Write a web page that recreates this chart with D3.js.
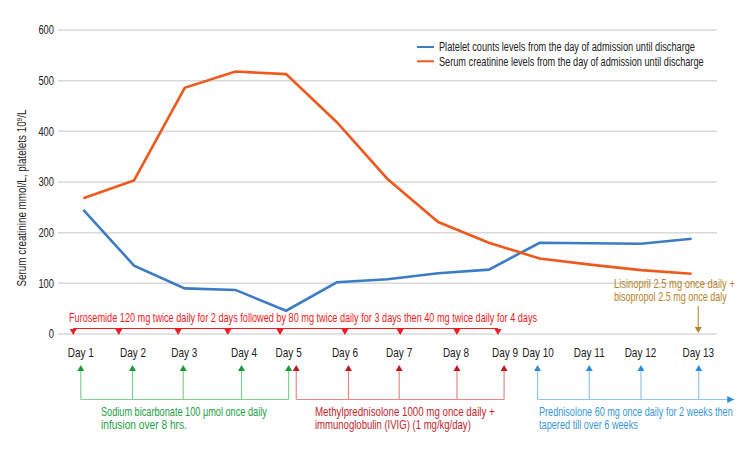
<!DOCTYPE html>
<html><head><meta charset="utf-8">
<script src="https://cdn.jsdelivr.net/npm/d3@7"></script>
<style>
body{margin:0;background:#fff;}
text{font-family:"Liberation Sans",Arial,sans-serif;}
</style></head>
<body><svg id="c" width="756" height="456"></svg>
<script>
// ---- data ----
const days = [1,2,3,4,5,6,7,8,9,10,11,12,13];
const dayLabels = ["Day 1","Day 2","Day 3","Day 4","Day 5","Day 6","Day 7","Day 8","Day 9","Day 10","Day 11","Day 12","Day 13"];
const platelets = [245,135,90,87,46,102,108,120,127,180,179,178,188];
const creatinine = [268,303,486,518,513,418,306,221,180,149,137,126,119];
const yTicks = [0,100,200,300,400,500,600];
const seriesNames = ["Platelet counts levels from the day of admission until discharge","Serum creatinine levels from the day of admission until discharge"];
// annotation anchors in day units
const dayLabelAt = [0.95,1.98,2.99,4.17,5.05,6.16,7.23,8.35,9.32,9.97,10.98,11.99,13.13];
const furosemideAt = [0.8,1.7,2.87,3.85,4.88,6.16,7.25,8.37,9.18];
const bicarbAt = [0.95,1.97,2.97,4.12,5.05];
const methylAt = [5.2,6.23,7.23,8.37,9.3];
const prednisAt = [9.96,10.98,12.0,13.14];
const prednisEnd = 13.84;
const lisinoprilAt = 13.13;

const svg = d3.select("#c");
const M = {l:58, r:717, t:30, b:334};
const x = d3.scaleLinear().domain([0.5,13.5]).range([M.l,M.r]);
const y = d3.scaleLinear().domain([0,600]).range([M.b,M.t]);

// condense text horizontally (scale about its x anchor)
function squeeze(node, s){
  const xx = +node.getAttribute("x") || 0;
  const prev = node.getAttribute("transform") || "";
  node.setAttribute("transform", `${prev} translate(${xx},0) scale(${s},1) translate(${-xx},0)`);
}
function fitW(sel, w){ sel.each(function(){ squeeze(this, w/this.getComputedTextLength()); }); return sel; }
function fitF(sel, f){ sel.each(function(){ squeeze(this, f); }); return sel; }

// grid
svg.append("g").selectAll("line").data(yTicks).join("line")
  .attr("x1",M.l).attr("x2",M.r).attr("y1",d=>y(d)).attr("y2",d=>y(d))
  .attr("stroke","#d9d9d9").attr("stroke-width",1.5);
const yAxis = d3.axisLeft(y).tickValues(yTicks).tickSize(0).tickPadding(4);
const ga = svg.append("g").attr("transform",`translate(${M.l},0)`).call(yAxis);
ga.select(".domain").remove();
ga.selectAll("text").attr("font-size",12).attr("fill","#222")
  .style("font-family",'"Liberation Sans",Arial,sans-serif');
fitF(ga.selectAll("text"),0.78);

const title = svg.append("text").attr("text-anchor","middle").attr("font-size",12).attr("fill","#222");
title.append("tspan").text("Serum creatinine mmol/L, platelets 10");
title.append("tspan").attr("dy",-4).attr("font-size",8).text("9");
title.append("tspan").attr("dy",4).text("/L");
const tl = title.node().getComputedTextLength();
title.attr("transform",`translate(26,198) rotate(-90) scale(${177/tl},1)`);

// lines
const blue = "#3b7cc4", orange = "#ee5a1d";
const line = d3.line().x((d,i)=>x(days[i])).y(d=>y(d));
svg.append("path").datum(platelets).attr("d",line).attr("fill","none").attr("stroke",blue).attr("stroke-width",2.6);
svg.append("path").datum(creatinine).attr("d",line).attr("fill","none").attr("stroke",orange).attr("stroke-width",2.6);

// legend
const lg = svg.append("g");
const legW = [256,265];
[blue,orange].forEach((c,i)=>{
  lg.append("line").attr("x1",417).attr("x2",434).attr("y1",47+i*14.3).attr("y2",47+i*14.3).attr("stroke",c).attr("stroke-width",2);
  fitW(lg.append("text").attr("x",439).attr("y",47+i*14.3).attr("dy","0.35em").attr("font-size",12.5).attr("fill","#222").text(seriesNames[i]), legW[i]);
});

// day labels
fitF(svg.append("g").selectAll("text").data(dayLabels).join("text")
  .attr("x",(d,i)=>x(dayLabelAt[i])).attr("y",353).attr("dy","0.35em")
  .attr("text-anchor","middle").attr("font-size",12.5).attr("fill","#222").text(d=>d), 0.8);

function downTri(g,cx,tipY,color){
  g.append("path").attr("d",`M${cx-3.5},${tipY-6}L${cx+3.5},${tipY-6}L${cx},${tipY}Z`).attr("fill",color);
}
function upTri(g,cx,tipY,color){
  g.append("path").attr("d",`M${cx-3.5},${tipY+6}L${cx+3.5},${tipY+6}L${cx},${tipY}Z`).attr("fill",color);
}

// furosemide
const red="#ee1c24";
const gf = svg.append("g");
gf.append("line").attr("x1",x(furosemideAt[0])).attr("x2",x(furosemideAt[furosemideAt.length-1]))
  .attr("y1",328.5).attr("y2",328.5).attr("stroke",red).attr("stroke-width",1);
furosemideAt.forEach(d=>downTri(gf,x(d),335,red));
fitW(gf.append("text").attr("x",69).attr("y",318).attr("dy","0.35em").attr("font-size",12.5).attr("fill",red)
  .text("Furosemide 120 mg twice daily for 2 days followed by 80 mg twice daily for 3 days then 40 mg twice daily for 4 days"), 469);

// lisinopril
const brown="#b5842a";
const gl = svg.append("g");
gl.append("line").attr("x1",x(lisinoprilAt)).attr("x2",x(lisinoprilAt)).attr("y1",306).attr("y2",328).attr("stroke",brown).attr("stroke-width",1);
downTri(gl,x(lisinoprilAt),333,brown);
fitW(gl.append("text").attr("x",614).attr("y",284).attr("dy","0.35em").attr("font-size",12.5).attr("fill",brown).text("Lisinopril 2.5 mg once daily +"),121);
fitW(gl.append("text").attr("x",614).attr("y",296.5).attr("dy","0.35em").attr("font-size",12.5).attr("fill",brown).text("bisopropol 2.5 mg once daly"),113);

// bottom bracket groups
function bracket(at,arrowC,lineC,textC,lines,widths,tx,endX){
  const g = svg.append("g");
  const x0 = x(at[0]), x1 = endX!==undefined ? x(endX) : x(at[at.length-1]);
  g.append("line").attr("x1",x0).attr("x2",x1).attr("y1",399.5).attr("y2",399.5).attr("stroke",lineC).attr("stroke-width",1.2);
  at.forEach(d=>{
    g.append("line").attr("x1",x(d)).attr("x2",x(d)).attr("y1",370).attr("y2",399.5).attr("stroke",lineC).attr("stroke-width",1.2);
    upTri(g,x(d),365,arrowC);
  });
  if(endX!==undefined){
    g.append("path").attr("d",`M${x1-7},${396}L${x1-7},${403}L${x1},${399.5}Z`).attr("fill",arrowC);
  }
  lines.forEach((t,i)=>fitW(g.append("text").attr("x",tx).attr("y",412+i*12.5).attr("dy","0.35em").attr("font-size",12.5).attr("fill",textC).text(t), widths[i]));
}
bracket(bicarbAt,"#179b3a","#7fcf8e","#23a045",["Sodium bicarbonate 100 µmol once daily","infusion over 8 hrs."],[166,86],101);
bracket(methylAt,"#b81c24","#e28a8a","#c1272d",["Methylprednisolone 1000 mg once daily +","immunoglobulin (IVIG) (1 mg/kg/day)"],[180,156],315);
bracket(prednisAt,"#2d8dd6","#8ec5ec","#3a97d8",["Prednisolone 60 mg once daily for 2 weeks then","tapered till over 6 weeks"],[194,99],539,prednisEnd);
</script></body></html>
